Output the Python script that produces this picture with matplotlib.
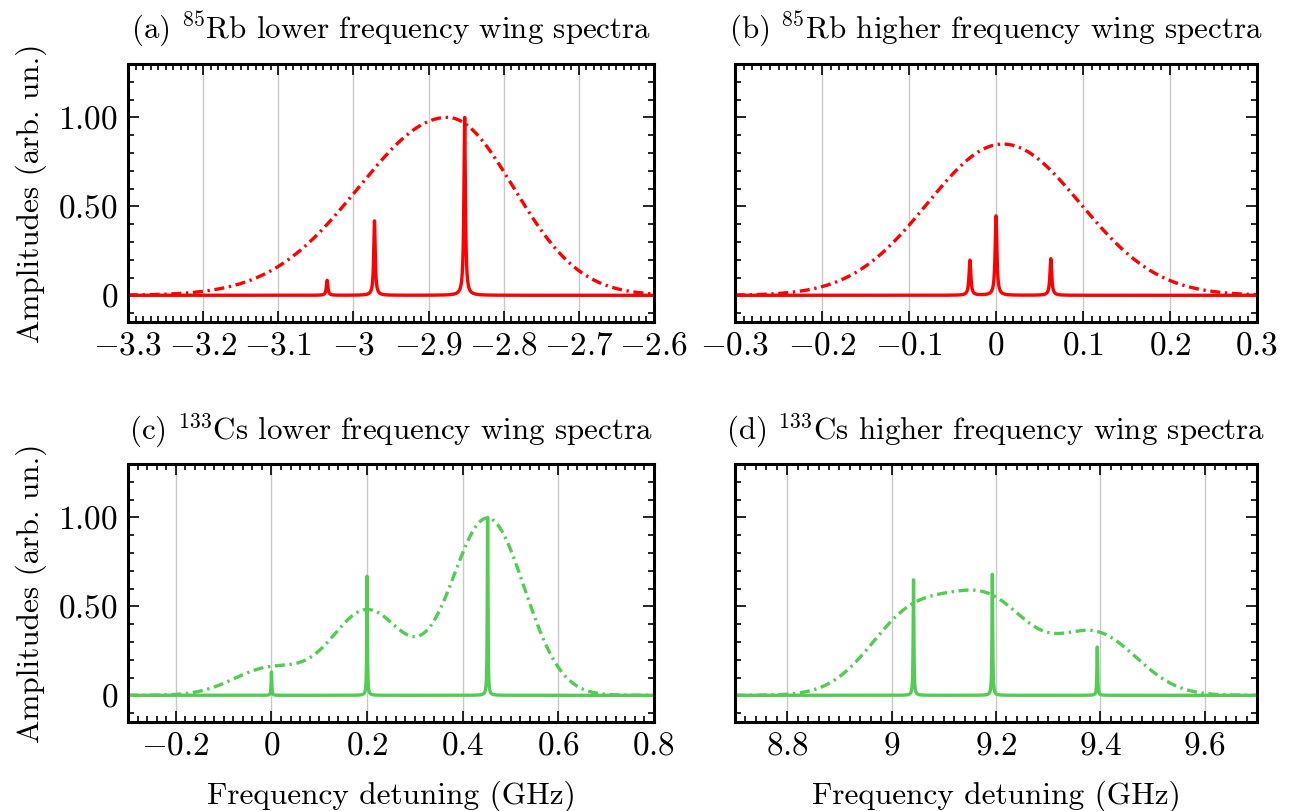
import numpy as np
import matplotlib
matplotlib.use("Agg")
import matplotlib.pyplot as plt
from matplotlib.ticker import MultipleLocator, FuncFormatter

plt.rcParams.update({
    "font.family": "serif",
    "font.serif": ["cmr10"],
    "mathtext.fontset": "cm",
    "axes.formatter.use_mathtext": True,
    "font.size": 22.5,
})

# ---- data (GHz, arb. units) ----
# narrow sub-Doppler lines: centre, height
rb_low_pos = [-3.035, -2.972, -2.852]
rb_low_amp = [0.084, 0.418, 1.00]
rb_high_pos = [-0.030, 0.000, 0.063]
rb_high_amp = [0.197, 0.446, 0.206]
cs_low_pos = [0.000, 0.200, 0.452]
cs_low_amp = [0.131, 0.669, 1.00]
cs_high_pos = [9.042, 9.193, 9.394]
cs_high_amp = [0.649, 0.680, 0.271]

# Doppler envelopes: centre, height, left width, right width
rb_low_env_c = [-2.875]
rb_low_env_a = [1.00]
rb_low_env_sl = [0.118]
rb_low_env_sr = [0.088]
rb_high_env_c = [0.008]
rb_high_env_a = [0.85]
rb_high_env_sl = [0.087]
rb_high_env_sr = [0.089]
cs_low_env_c = [-0.005, 0.200, 0.452]
cs_low_env_a = [0.150, 0.475, 0.995]
cs_low_env_sl = [0.075, 0.075, 0.076]
cs_low_env_sr = [0.075, 0.075, 0.077]
cs_high_env_c = [9.040, 9.192, 9.390]
cs_high_env_a = [0.448, 0.472, 0.344]
cs_high_env_sl = [0.082, 0.077, 0.077]
cs_high_env_sr = [0.082, 0.077, 0.080]

xlims = [(-3.3, -2.6), (-0.3, 0.3), (-0.3, 0.8), (8.7, 9.7)]
major_step = [0.1, 0.1, 0.2, 0.2]
minor_step = [0.01, 0.01, 0.02, 0.02]
titles = [r"(a) $^{85}$Rb lower frequency wing spectra",
          r"(b) $^{85}$Rb higher frequency wing spectra",
          r"(c) $^{133}$Cs lower frequency wing spectra",
          r"(d) $^{133}$Cs higher frequency wing spectra"]
line_width = [0.0012, 0.0012, 0.0008, 0.0008]

RED = "#ff0000"
GREEN = "#52cc52"

panels = [
    (rb_low_pos, rb_low_amp, rb_low_env_c, rb_low_env_a, rb_low_env_sl, rb_low_env_sr, RED),
    (rb_high_pos, rb_high_amp, rb_high_env_c, rb_high_env_a, rb_high_env_sl, rb_high_env_sr, RED),
    (cs_low_pos, cs_low_amp, cs_low_env_c, cs_low_env_a, cs_low_env_sl, cs_low_env_sr, GREEN),
    (cs_high_pos, cs_high_amp, cs_high_env_c, cs_high_env_a, cs_high_env_sl, cs_high_env_sr, GREEN),
]


def lines(x, pos, amp, g):
    y = np.zeros_like(x)
    for p, a in zip(pos, amp):
        y += a * g**2 / ((x - p)**2 + g**2)
    return y


def envelope(x, cen, amp, sl, sr):
    y = np.zeros_like(x)
    for c, a, l, r in zip(cen, amp, sl, sr):
        s = np.where(x < c, l, r)
        y += a * np.exp(-(x - c)**2 / (2 * s**2))
    return y


def yfmt(v, _):
    if abs(v) < 1e-9:
        return "$0$"
    return f"${v:.2f}$"


def xfmt(v, _):
    v = round(v, 6)
    if abs(v) < 1e-9:
        v = 0.0
    return f"${v:g}$"


fig = plt.figure(figsize=(12.94, 8.11), dpi=100)
W, H = 1294, 811
boxes = [(128, 64, 654, 322), (735, 64, 1257, 322),
         (128, 464, 654, 722), (735, 464, 1257, 722)]

for i, (pos, amp, ec, ea, esl, esr, col) in enumerate(panels):
    l, t, r, b = boxes[i]
    ax = fig.add_axes([l / W, (H - b) / H, (r - l) / W, (b - t) / H])
    x = np.linspace(xlims[i][0], xlims[i][1], 40001)
    ax.plot(x, envelope(x, ec, ea, esl, esr), color=col, lw=2.4,
            dashes=(3.0, 1.4, 0.7, 1.4))
    ax.plot(x, lines(x, pos, amp, line_width[i]), color=col, lw=2.4)

    ax.set_xlim(*xlims[i])
    ax.set_ylim(-0.15, 1.3)
    ax.xaxis.set_major_locator(MultipleLocator(major_step[i]))
    ax.xaxis.set_minor_locator(MultipleLocator(minor_step[i]))
    ax.set_yticks([0, 0.5, 1.0])
    ax.yaxis.set_minor_locator(MultipleLocator(0.1))
    ax.xaxis.set_major_formatter(FuncFormatter(xfmt))
    ax.yaxis.set_major_formatter(FuncFormatter(yfmt))
    ax.tick_params(which="both", direction="in", top=True, right=True, width=1.2,
                   labelsize=24)
    ax.tick_params(which="major", length=8, pad=7)
    ax.tick_params(which="minor", length=4)
    ax.grid(axis="x", which="major", color="#c8c8c8", lw=1.0)
    for sp in ax.spines.values():
        sp.set_linewidth(2.2)
    ax.set_title(titles[i], pad=18, fontsize=22.3)
    if i % 2 == 0:
        ax.set_ylabel("Amplitudes (arb. un.)", labelpad=8)
    else:
        ax.tick_params(labelleft=False)
    if i >= 2:
        ax.set_xlabel("Frequency detuning (GHz)", labelpad=14)

fig.savefig("out.png", dpi=100)
